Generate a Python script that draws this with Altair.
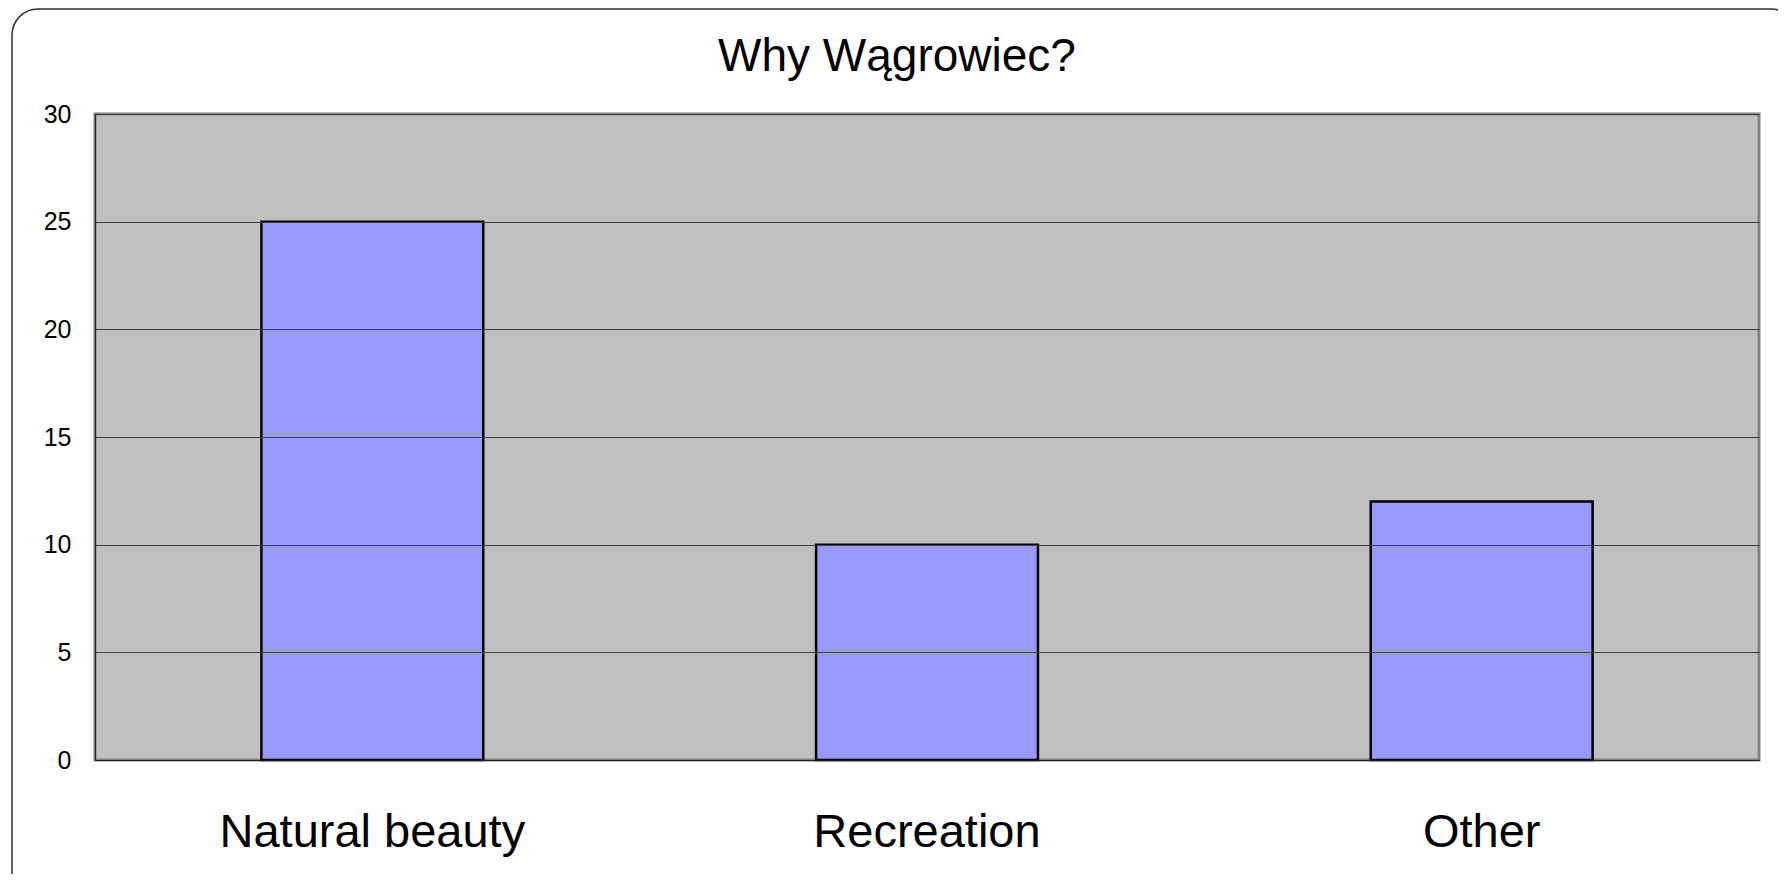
import altair as alt
import pandas as pd

categories = ["Natural beauty", "Recreation", "Other"]
values = [25, 10, 12]
y_ticks = [0, 5, 10, 15, 20, 25, 30]

df = pd.DataFrame({"reason": categories, "count": values})

W, H = 1664, 646
FONT = "Liberation Sans"

frame = alt.Chart(pd.DataFrame({"a": [0]})).mark_rect(
    filled=False, stroke="#333333", strokeWidth=1.5, cornerRadius=26
).encode(
    x=alt.value(-83), x2=alt.value(1702), y=alt.value(-105), y2=alt.value(790)
)

bars = alt.Chart(df).mark_bar(
    fill="#9999FF", stroke="black", strokeWidth=2.5
).encode(
    x=alt.X(
        "reason:N",
        sort=categories,
        scale=alt.Scale(paddingInner=0.6, paddingOuter=0.3),
        axis=alt.Axis(
            title=None, labelAngle=0, labelFontSize=47, labelFont=FONT,
            labelColor="black", ticks=False, tickSize=0, domain=True,
            domainColor="#202020", domainWidth=1, labelPadding=86,
            labelBaseline="alphabetic", labelLimit=0, zindex=1,
        ),
    ),
    y=alt.Y(
        "count:Q",
        scale=alt.Scale(domain=[0, 30], nice=False),
        axis=alt.Axis(
            title=None, values=y_ticks, grid=True, gridColor="#404040",
            gridWidth=1, ticks=False, tickSize=0, domain=True,
            domainColor="#202020", domainWidth=1, zindex=1,
            labelFontSize=25, labelPadding=24, labelColor="black", labelFont=FONT,
        ),
    ),
)

chart = alt.layer(frame, bars).properties(
    width=W,
    height=H,
    autosize=alt.AutoSizeParams(type="none"),
    padding={"left": 87, "top": 106, "right": 19, "bottom": 114},
    background="white",
    title=alt.TitleParams(
        "Why Wągrowiec?", fontSize=46, font=FONT, fontWeight="normal",
        color="black", anchor="middle", dx=-30, baseline="alphabetic",
        offset=0, dy=109,
    ),
).configure_view(
    fill="#C0C0C0", stroke="#808080", strokeWidth=3
)

chart.save("out.html", embed_options={"renderer": "svg", "actions": False})
